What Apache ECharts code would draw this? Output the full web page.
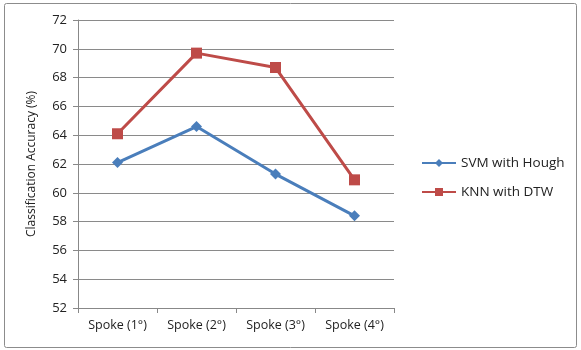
<!DOCTYPE html>
<html><head><meta charset="utf-8">
<script src="https://cdn.jsdelivr.net/npm/echarts@6/dist/echarts.min.js"></script>
<style>html,body{margin:0;padding:0;background:#fff}#c{width:581px;height:350px}</style>
</head><body><div id="c"></div>
<script>
const categories = ['Spoke (1°)', 'Spoke (2°)', 'Spoke (3°)', 'Spoke (4°)'];
const svmHough = [62.1, 64.6, 61.3, 58.4];
const knnDtw = [64.1, 69.7, 68.7, 60.9];
const seriesNames = ['SVM with Hough', 'KNN with DTW'];
const yTicks = { min: 52, max: 72, interval: 2 };

const chart = echarts.init(document.getElementById('c'), null, { renderer: 'canvas' });
const font = '"Open Sans", "DejaVu Sans", sans-serif';
chart.setOption({
  animation: false,
  backgroundColor: '#fff',
  graphic: [{
    type: 'rect', shape: { x: 4.5, y: 3.5, width: 572, height: 344, r: 2 },
    style: { fill: 'none', stroke: '#8c8c8c', lineWidth: 1 }, silent: true
  }],
  grid: { left: 78, right: 187, top: 20, bottom: 42 },
  legend: {
    orient: 'vertical', left: 416, top: 151, itemGap: 15,
    itemWidth: 34, itemHeight: 10,
    textStyle: { fontFamily: font, fontSize: 13.5, color: '#222' },
    data: seriesNames
  },
  xAxis: {
    type: 'category', data: categories, boundaryGap: true,
    axisLine: { lineStyle: { color: '#888', width: 1 } },
    axisTick: { show: true, alignWithLabel: false, length: 5, lineStyle: { color: '#888' } },
    axisLabel: { fontFamily: font, fontSize: 12.5, color: '#222', margin: 11 }
  },
  yAxis: {
    type: 'value', min: yTicks.min, max: yTicks.max, interval: yTicks.interval,
    name: 'Classification Accuracy (%)', nameLocation: 'middle', nameGap: 40,
    nameTextStyle: { fontFamily: font, fontSize: 12, color: '#222' },
    axisLine: { show: true, lineStyle: { color: '#888' } },
    axisTick: { show: true, length: 5, lineStyle: { color: '#888' } },
    axisLabel: { fontFamily: font, fontSize: 13, color: '#222', margin: 11 },
    splitLine: { lineStyle: { color: '#8a8a8a', width: 1 } }
  },
  series: [
    {
      name: seriesNames[0], type: 'line', data: svmHough,
      symbol: 'diamond', symbolSize: 11,
      lineStyle: { color: '#4a7ebb', width: 3 },
      itemStyle: { color: '#4a7ebb' }
    },
    {
      name: seriesNames[1], type: 'line', data: knnDtw,
      symbol: 'rect', symbolSize: 11,
      lineStyle: { color: '#be4b48', width: 3 },
      itemStyle: { color: '#be4b48' }
    }
  ]
});
</script></body></html>
